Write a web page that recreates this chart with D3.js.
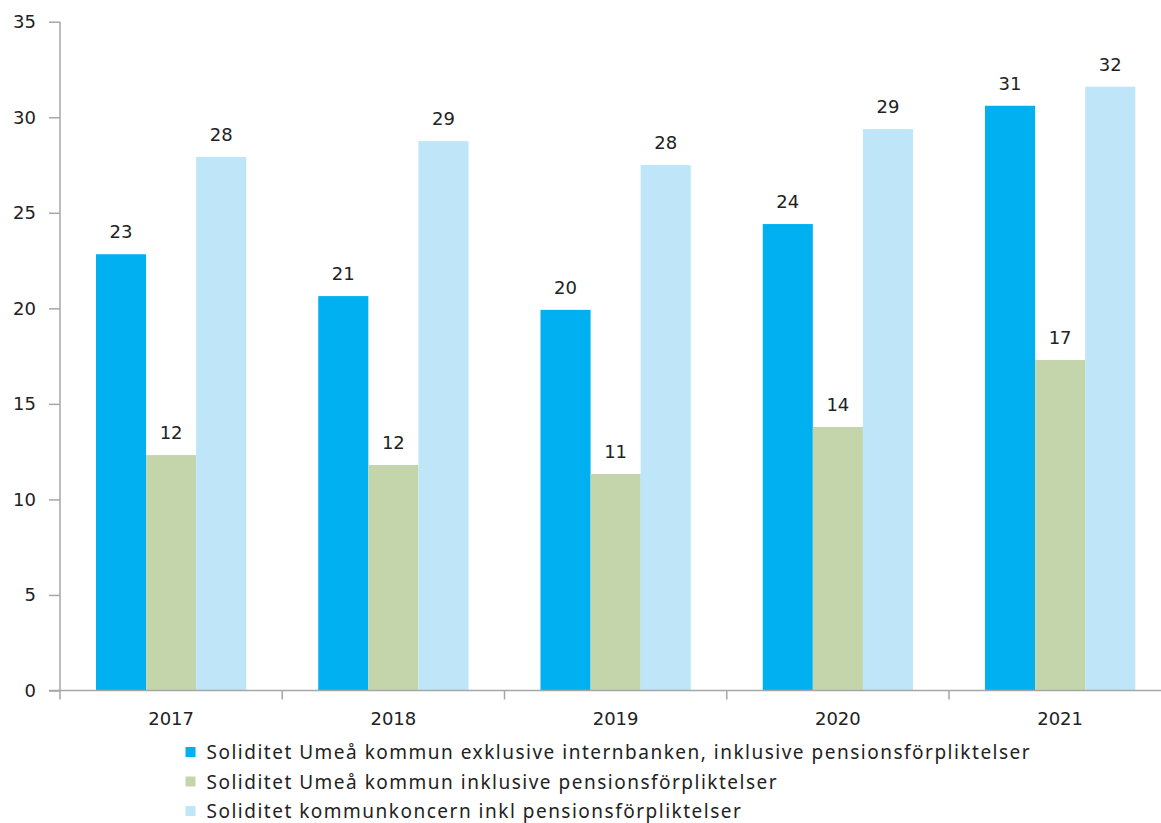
<!DOCTYPE html>
<html>
<head>
<meta charset="utf-8">
<script src="https://cdn.jsdelivr.net/npm/d3@7"></script>
<style>
  body { margin: 0; background: #fff; }
  .tick text, .valueLabel { font-family: "DejaVu Sans", Verdana, sans-serif; font-size: 18px; fill: #222; }
  .legend { font-family: "Noto Sans", "Open Sans", sans-serif; font-size: 19px; letter-spacing: 1.5px; fill: #222; }
  .axis path, .axis line { stroke: #a6a6a6; stroke-width: 1.5; }
</style>
</head>
<body>
<script>
// data
let years = ["2017", "2018", "2019", "2020", "2021"];
let exklInternbanken = [22.83, 20.64, 19.92, 24.41, 30.6];
let inklPension = [12.32, 11.8, 11.33, 13.79, 17.3];
let koncern = [27.92, 28.75, 27.5, 29.38, 31.6];
let seriesNames = [
  "Soliditet Umeå kommun exklusive internbanken, inklusive pensionsförpliktelser",
  "Soliditet Umeå kommun inklusive pensionsförpliktelser",
  "Soliditet kommunkoncern inkl pensionsförpliktelser"
];
let yTicks = [0, 5, 10, 15, 20, 25, 30, 35];

let colors = ["#00b0f0", "#c4d5ab", "#bee5f8"];
let seriesValues = [exklInternbanken, inklPension, koncern];

let width = 1161, height = 823;
let plotLeft = 60, plotTop = 21.7, plotBottom = 690.5;
let catWidth = 222.25;

let svg = d3.select("body").append("svg")
  .attr("width", width)
  .attr("height", height);

let xScale = d3.scaleBand()
  .domain(years)
  .range([plotLeft, plotLeft + catWidth * years.length]);

let xInner = d3.scaleBand()
  .domain(d3.range(seriesNames.length))
  .range([36, catWidth - 36]);

let yScale = d3.scaleLinear()
  .domain([0, 35])
  .range([plotBottom, plotTop]);

// bars
seriesValues.forEach(function(vals, s) {
  svg.selectAll(".bar" + s)
    .data(vals)
    .enter().append("rect")
    .attr("class", "bar" + s)
    .attr("x", function(d, i) { return xScale(years[i]) + xInner(s); })
    .attr("y", function(d) { return yScale(d); })
    .attr("width", xInner.bandwidth())
    .attr("height", function(d) { return yScale(0) - yScale(d); })
    .attr("fill", colors[s]);

  svg.selectAll(".label" + s)
    .data(vals)
    .enter().append("text")
    .attr("class", "valueLabel label" + s)
    .attr("text-anchor", "middle")
    .attr("x", function(d, i) { return xScale(years[i]) + xInner(s) + xInner.bandwidth() / 2; })
    .attr("y", function(d) { return yScale(d) - 16; })
    .text(function(d) { return Math.round(d); });
});

// y axis
let yAxis = svg.append("g")
  .attr("class", "axis")
  .attr("transform", "translate(" + plotLeft + ",0)")
  .call(d3.axisLeft(yScale).tickValues(yTicks).tickSize(11).tickSizeOuter(0).tickPadding(13));
yAxis.select(".domain").attr("d", "M0," + plotTop + "V" + plotBottom);

// x axis: ticks at category boundaries
let xAxis = svg.append("g")
  .attr("class", "axis")
  .attr("transform", "translate(0," + plotBottom + ")")
  .call(d3.axisBottom(xScale).tickSize(0).tickPadding(22));
xAxis.select(".domain").attr("d", "M" + (plotLeft - 11) + ",0H" + width);
xAxis.selectAll(".bound")
  .data(years.map(function(y) { return xScale(y); }).concat([xScale(years[4]) + catWidth]))
  .enter().append("line")
  .attr("class", "bound")
  .attr("x1", function(d) { return d; })
  .attr("x2", function(d) { return d; })
  .attr("y1", 0)
  .attr("y2", 9);

// legend
let legend = svg.selectAll(".legendRow")
  .data(seriesNames)
  .enter().append("g")
  .attr("class", "legendRow")
  .attr("transform", function(d, i) { return "translate(185.5," + (752 + i * 29.5) + ")"; });

legend.append("rect")
  .attr("x", 0)
  .attr("y", -5)
  .attr("width", 10)
  .attr("height", 10)
  .attr("fill", function(d, i) { return colors[i]; });

legend.append("text")
  .attr("class", "legend")
  .attr("x", 21)
  .attr("y", 7)
  .text(function(d) { return d; });
</script>
</body>
</html>
